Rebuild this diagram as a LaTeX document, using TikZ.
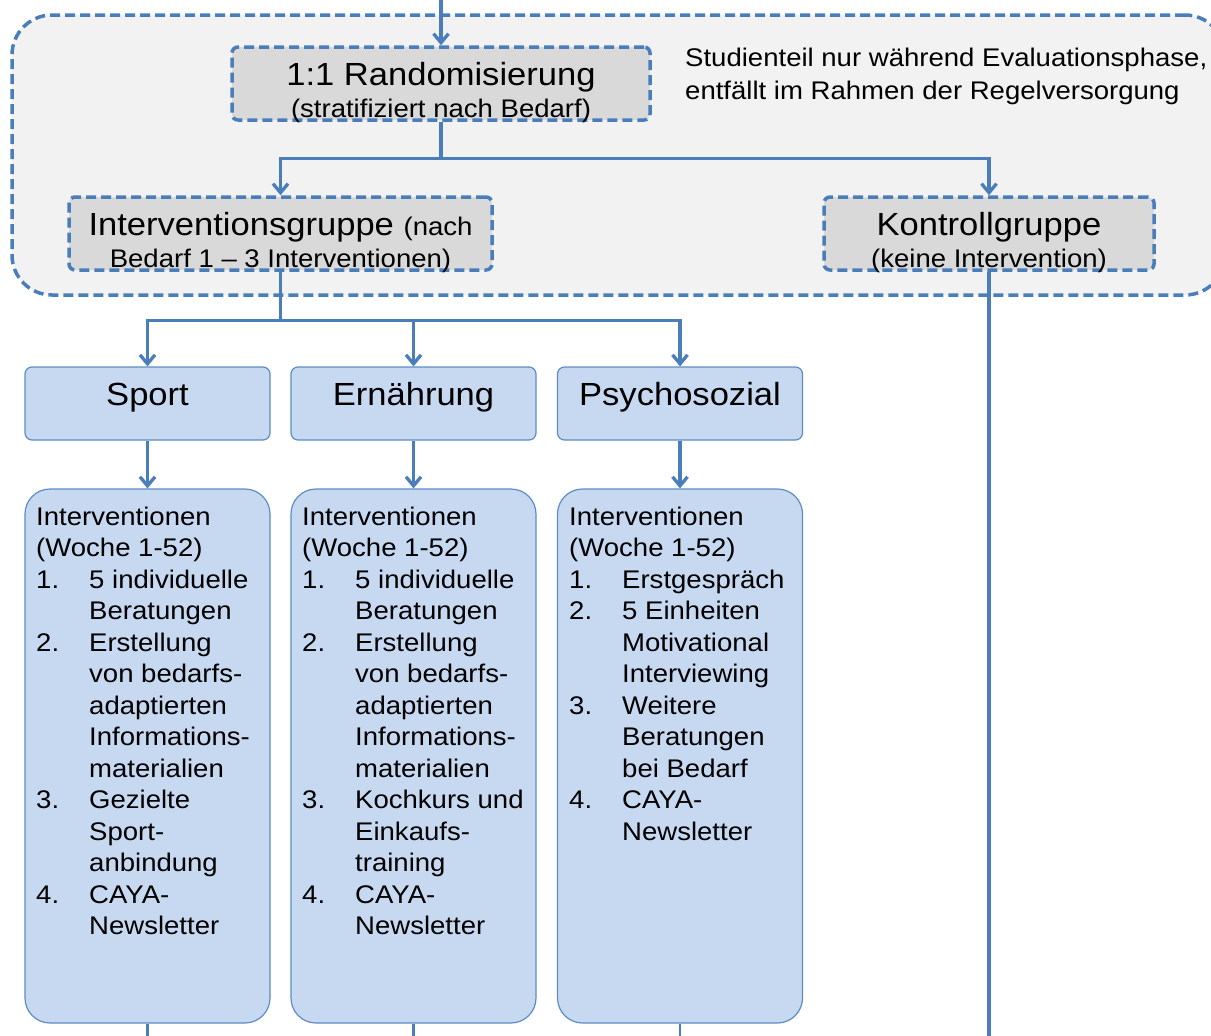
\documentclass[tikz,border=0pt]{standalone}
\usepackage{fontspec}
\setmainfont{Liberation Sans}[FakeStretch=1.08]
\usetikzlibrary{arrows.meta}
\definecolor{lb}{RGB}{74,126,187}
\definecolor{outerfill}{RGB}{242,242,242}
\definecolor{grayfill}{RGB}{217,217,217}
\definecolor{bluefill}{RGB}{198,217,241}
\definecolor{blueedge}{RGB}{95,140,196}
\newcommand{\fsbig}{\fontsize{32}{38}\selectfont}
\newcommand{\fssmall}{\fontsize{25.5}{31.5}\selectfont}
\newcommand{\numitem}[1]{\makebox[53pt][l]{#1}}
\newcommand{\listindent}{\hspace*{53pt}}
\begin{document}
\begin{tikzpicture}[x=1pt,y=-1pt,
  conn/.style={draw=lb,line width=3.3pt,-{Straight Barb[length=9pt,width=15pt]}},
  plainline/.style={draw=lb,line width=3.3pt},
  thinline/.style={draw=lb,line width=2.2pt},
  phase/.style={draw=lb,line width=3.5pt,dash pattern=on 10pt off 5pt,fill=outerfill,rounded corners=40pt,inner sep=0},
  dashbox/.style={draw=lb,line width=3.5pt,dash pattern=on 10pt off 5pt,fill=grayfill,rounded corners=6pt,inner sep=0,minimum height=73pt},
  headbox/.style={draw=blueedge,line width=1.2pt,fill=bluefill,rounded corners=7pt,minimum width=245pt,minimum height=73pt,inner sep=0},
  listbox/.style={draw=blueedge,line width=1.2pt,fill=bluefill,rounded corners=25pt,minimum width=245pt,minimum height=534pt,inner sep=0},
  txt/.style={inner sep=0,anchor=base},
  listtxt/.style={inner sep=0,anchor=base west}
]
\useasboundingbox (0,0) rectangle (1211,1036);

% evaluation phase frame
\node[phase,minimum width=1213pt,minimum height=280pt] (phase) at (618.5,155) {};

% boxes
\node[dashbox,minimum width=418pt] (rand) at (441,83.5) {};
\node[dashbox,minimum width=423pt] (ig) at (280.5,233.5) {};
\node[dashbox,minimum width=330pt] (kg) at (989,233.5) {};

\node[headbox] (sport) at (147.5,403.5) {};
\node[headbox] (ern) at (413.5,403.5) {};
\node[headbox] (psy) at (680,403.5) {};

\node[listbox] (lsport) at (147.5,756) {};
\node[listbox] (lern) at (413.5,756) {};
\node[listbox] (lpsy) at (680,756) {};

% free ends
\coordinate (start) at (441,-5);
\coordinate (kgend) at (989,1045);
\coordinate (e1) at (147.5,1045);
\coordinate (e2) at (413.5,1045);
\coordinate (e3) at (680,1045);

% connectors
\draw[conn] (start) -- (rand.north);
\draw[conn] (rand.south) -- ++(0,37) -| (ig.north);
\draw[conn] (rand.south) -- ++(0,37) -| (kg.north);
\draw[conn] (ig.south) -- ++(0,49) -| (sport.north);
\draw[conn] (ig.south) -- ++(0,49) -| (ern.north);
\draw[conn] (ig.south) -- ++(0,49) -| (psy.north);
\draw[conn] (sport.south) -- (lsport.north);
\draw[conn] (ern.south) -- (lern.north);
\draw[conn] (psy.south) -- (lpsy.north);
\draw[plainline] (kg.south) -- (kgend);
\draw[thinline] (lsport.south) -- (e1);
\draw[thinline] (lern.south) -- (e2);
\draw[thinline] (lpsy.south) -- (e3);

% texts
\node[txt] (randT1) at (441,85) {\fsbig 1:1 Randomisierung};
\node[txt] (randT2) at (441,117) {\fssmall (stratifiziert nach Bedarf)};
\node[txt] (igT1) at (280.5,235) {\fsbig Interventionsgruppe \fssmall(nach};
\node[txt] (igT2) at (280.5,267) {\fssmall Bedarf 1 – 3 Interventionen)};
\node[txt] (kgT1) at (989,235) {\fsbig Kontrollgruppe};
\node[txt] (kgT2) at (989,267) {\fssmall (keine Intervention)};
\node[listtxt] (note) at (685,66) {\parbox[t]{530pt}{\fontsize{25.5}{33}\selectfont Studienteil nur während Evaluationsphase,\\entfällt im Rahmen der Regelversorgung}};

\node[txt] (sportT) at (147.5,405) {\fsbig Sport};
\node[txt] (ernT) at (413.5,405) {\fsbig Ernährung};
\node[txt] (psyT) at (680,405) {\fsbig Psychosozial};

\node[listtxt] (lsportT) at (36,525) {\parbox[t]{240pt}{\fssmall
Interventionen\\
(Woche 1-52)\\
\numitem{1.}5 individuelle\\
\listindent Beratungen\\
\numitem{2.}Erstellung\\
\listindent von bedarfs-\\
\listindent adaptierten\\
\listindent Informations-\\
\listindent materialien\\
\numitem{3.}Gezielte\\
\listindent Sport-\\
\listindent anbindung\\
\numitem{4.}CAYA-\\
\listindent Newsletter}};

\node[listtxt] (lernT) at (302,525) {\parbox[t]{240pt}{\fssmall
Interventionen\\
(Woche 1-52)\\
\numitem{1.}5 individuelle\\
\listindent Beratungen\\
\numitem{2.}Erstellung\\
\listindent von bedarfs-\\
\listindent adaptierten\\
\listindent Informations-\\
\listindent materialien\\
\numitem{3.}Kochkurs und\\
\listindent Einkaufs-\\
\listindent training\\
\numitem{4.}CAYA-\\
\listindent Newsletter}};

\node[listtxt] (lpsyT) at (569,525) {\parbox[t]{240pt}{\fssmall
Interventionen\\
(Woche 1-52)\\
\numitem{1.}Erstgespräch\\
\numitem{2.}5 Einheiten\\
\listindent Motivational\\
\listindent Interviewing\\
\numitem{3.}Weitere\\
\listindent Beratungen\\
\listindent bei Bedarf\\
\numitem{4.}CAYA-\\
\listindent Newsletter}};
\end{tikzpicture}
\end{document}
